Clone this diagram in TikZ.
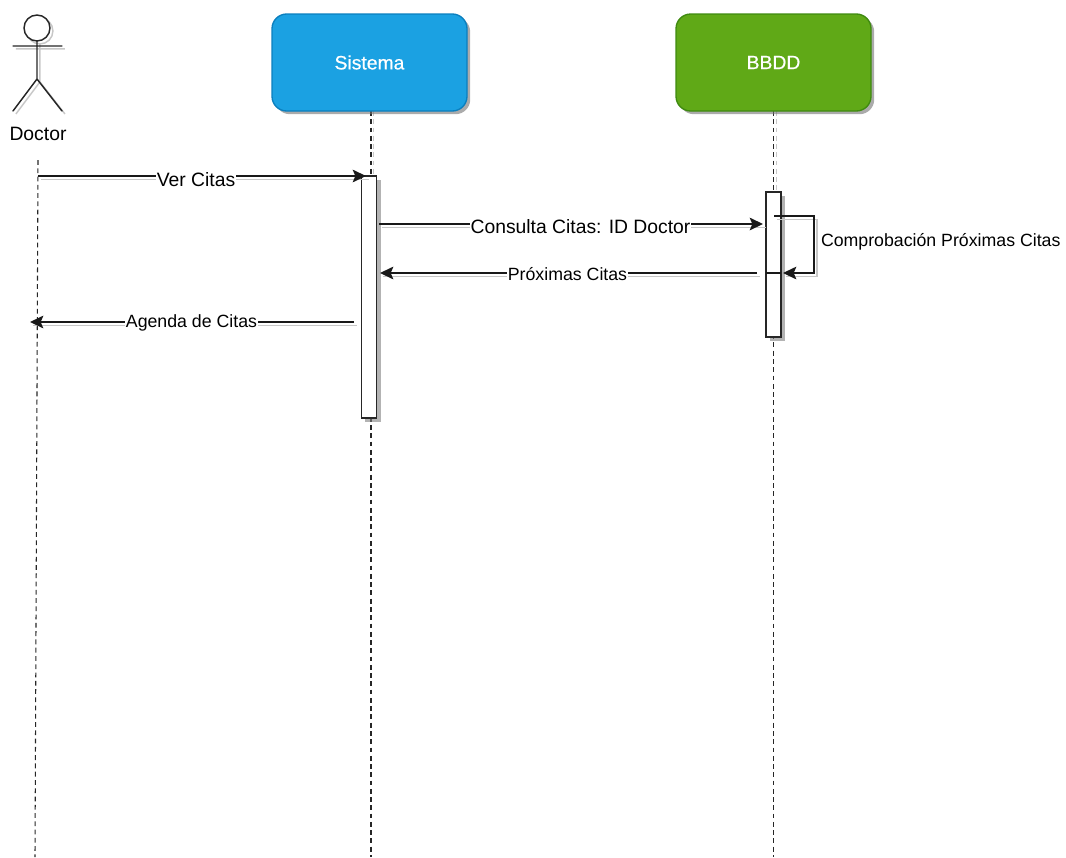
\documentclass[tikz,border=0pt]{standalone}
\usepackage{fontspec}
\setmainfont{Liberation Sans}
\newfontfamily\headfont[FakeBold=0.6]{Liberation Sans}
\usetikzlibrary{arrows.meta,shadows}
\definecolor{sysblue}{HTML}{1BA1E2}
\definecolor{sysblueline}{HTML}{0B7FBE}
\definecolor{dbgreen}{HTML}{60A917}
\definecolor{dbgreenline}{HTML}{3F8A10}
\colorlet{shade}{black!22}
\newcommand{\txtbig}{\fontsize{14.5pt}{17pt}\selectfont}
\newcommand{\txtsmall}{\fontsize{13.3pt}{16pt}\selectfont}
\tikzset{
  x=0.75pt,y=-0.75pt,
  every node/.style={inner sep=0pt,outer sep=0pt},
  headbox/.style={draw=#1,line width=1pt,rounded corners=11pt,minimum width=146.25pt,minimum height=72.75pt,
    text=white,font=\headfont\txtbig,drop shadow={shadow xshift=2.4pt,shadow yshift=-2.4pt,fill=black!55,opacity=.6}},
  activation/.style={draw=black!85,fill=white,line width=1.2pt,minimum width=11.4pt,
    drop shadow={shadow xshift=3pt,shadow yshift=-3pt,fill=black!50,opacity=.6}},
  lifeline/.style={draw=black!85,line width=0.8pt,dash pattern=on 3.6pt off 2.6pt},
  lifeshade/.style={draw=shade,line width=0.8pt,dash pattern=on 3.6pt off 2.6pt,transform canvas={shift={(2pt,-0pt)}}},
  msg/.style={draw=black!90,line width=1.05pt,-{Stealth[length=10pt,width=9.5pt,inset=2pt]},
    preaction={draw=shade,line width=1.05pt,-,transform canvas={shift={(2.2pt,-2.4pt)}}}},
  msglabel/.style={fill=white,text=black,inner xsep=0.5pt,inner ysep=1pt},
  figure/.style={draw=black!85,line width=1.1pt,line cap=round},
  figureshade/.style={draw=shade,line width=1.1pt,transform canvas={shift={(2.2pt,-2.2pt)}}},
}
\begin{document}
\begin{tikzpicture}
\useasboundingbox (0,0) rectangle (1066,857);
% lifeline ends
\coordinate (dtop) at (38,160);
\coordinate (dbot) at (35,857);
\coordinate (sbot) at (371,857);
\coordinate (bbot) at (773.5,857);
% lifelines, drawn beneath the boxes
\path[lifeshade] (371,111) -- (371,176);
\path[lifeshade] (773.5,111) -- (773.5,192);
\draw[lifeline] (dtop) -- (dbot);
\draw[lifeline] (371,111) -- (sbot);
\draw[lifeline] (773.5,111) -- (bbot);
% actor
\coordinate (head) at (37,28);
\coordinate (neck) at (37,41);
\coordinate (hip) at (37,79);
\coordinate (armL) at (13,46);
\coordinate (armR) at (62,46);
\coordinate (legL) at (13,111);
\coordinate (legR) at (62,111);
\draw[figureshade] (head) circle (9.75pt);
\draw[figureshade] (armL) -- (armR) (neck) -- (hip) (legL) -- (hip) -- (legR);
\fill[white] (head) circle (9.75pt);
\draw[figure] (head) circle (9.75pt);
\draw[figure] (armL) -- (armR) (neck) -- (hip) (legL) -- (hip) -- (legR);
\node[font=\txtbig,text=black] (doctor) at (38,134) {Doctor};
% header boxes
\node[headbox=sysblueline,fill=sysblue] (sistema) at (369.5,62.5) {Sistema};
\node[headbox=dbgreenline,fill=dbgreen] (bbdd) at (773.5,62.5) {BBDD};
% activations
\node[activation,minimum height=181.5pt] (actS) at (369,297) {};
\node[activation,minimum height=108.75pt] (actB) at (773.5,264.5) {};
% message ends
\coordinate (m1a) at (38,176);   \coordinate (m1b) at (366,176);
\coordinate (m2a) at (379,224);  \coordinate (m2b) at (763,224);
\coordinate (m3a) at (757,273);  \coordinate (m3b) at (380,273);
\coordinate (m4a) at (354,322);  \coordinate (m4b) at (30,322);
\coordinate (s1) at (774,216);   \coordinate (s2) at (814,216);
\coordinate (s3) at (814,273);   \coordinate (s4) at (783,273);
\coordinate (t1) at (766,273);   \coordinate (t2) at (781,273);
% messages
\draw[msg] (m1a) -- (m1b);
\draw[msg] (m2a) -- (m2b);
\draw[msg] (m3a) -- (m3b);
\draw[msg] (m4a) -- (m4b);
\draw[msg] (s1) -- (s2) -- (s3) -- (s4);
\draw[draw=black!90,line width=1.05pt] (t1) -- (t2);
% labels
\node[msglabel,font=\txtbig] (l1) at (196,180) {Ver Citas};
\node[msglabel,font=\txtbig] (l2) at (580.5,227) {Consulta Citas: ID Doctor};
\node[msglabel,font=\txtsmall] (l3) at (567.5,274) {Próximas Citas};
\node[msglabel,font=\txtsmall] (l4) at (191.5,323) {Agenda de Citas};
\node[font=\txtsmall,anchor=west,text=black] (l5) at (821,242) {Comprobación Próximas Citas};
\end{tikzpicture}
\end{document}
